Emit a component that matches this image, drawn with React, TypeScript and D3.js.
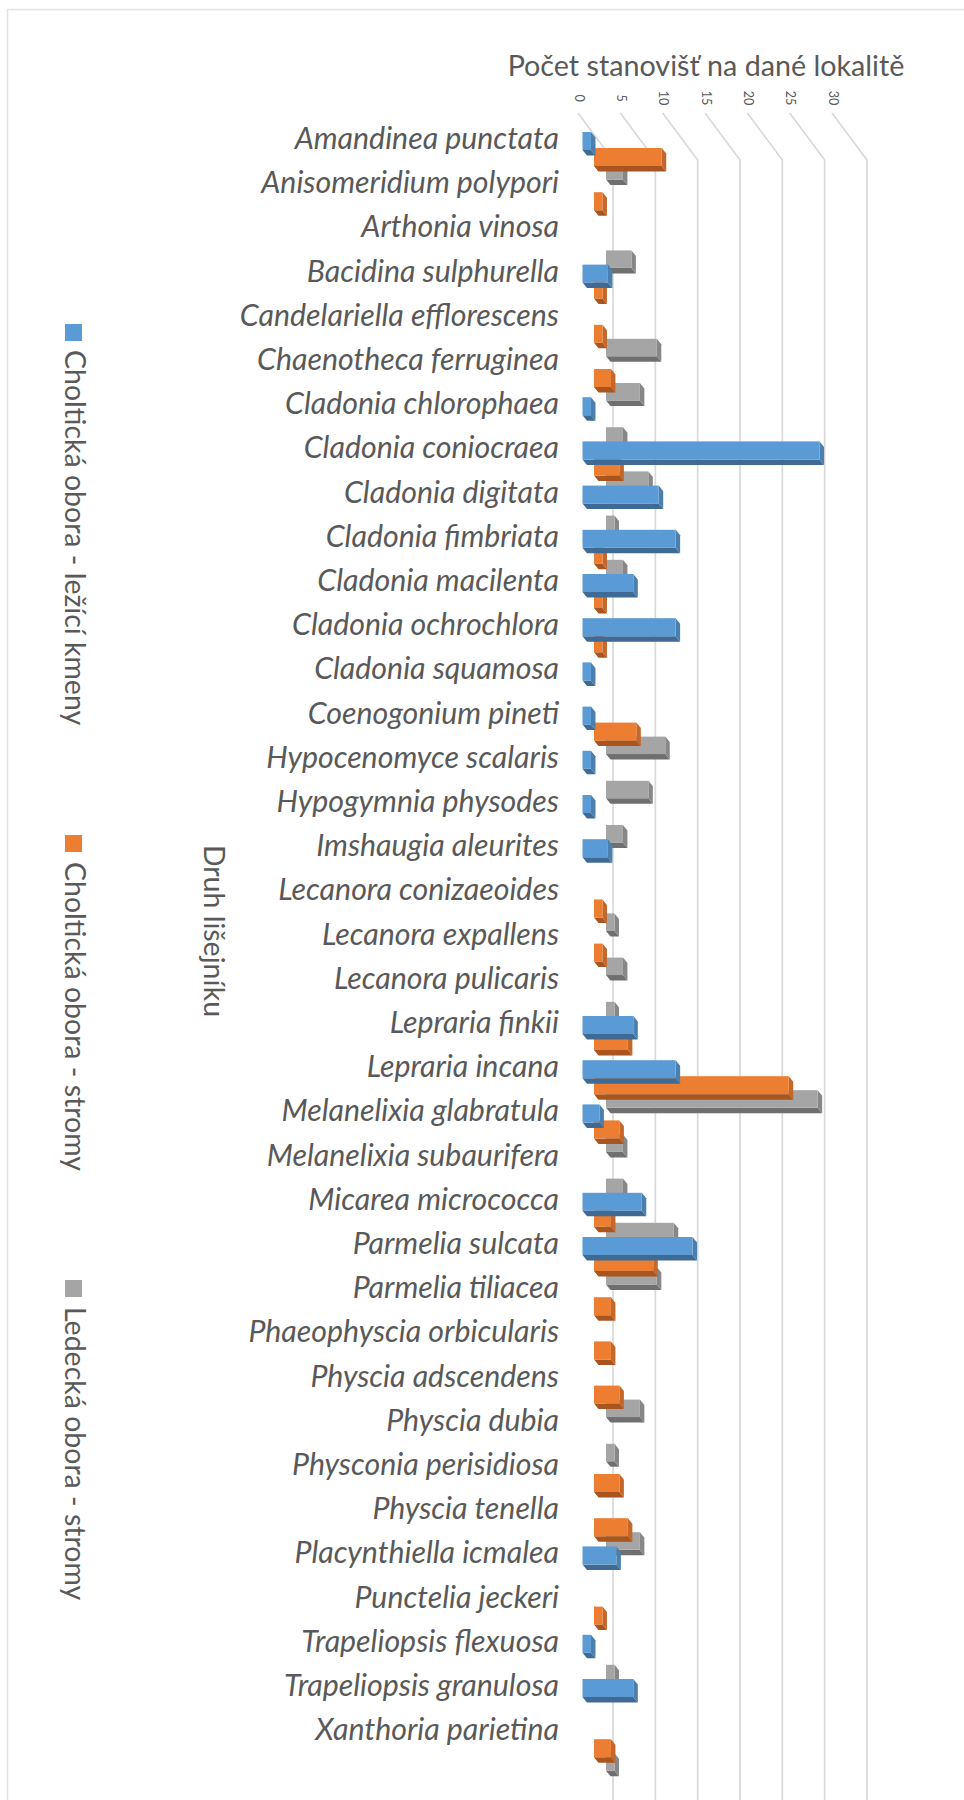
import React from "react";
import * as d3 from "d3";

const categories = ["Amandinea punctata","Anisomeridium polypori","Arthonia vinosa","Bacidina sulphurella","Candelariella efflorescens","Chaenotheca ferruginea","Cladonia chlorophaea","Cladonia coniocraea","Cladonia digitata","Cladonia fimbriata","Cladonia macilenta","Cladonia ochrochlora","Cladonia squamosa","Coenogonium pineti","Hypocenomyce scalaris","Hypogymnia physodes","Imshaugia aleurites","Lecanora conizaeoides","Lecanora expallens","Lecanora pulicaris","Lepraria finkii","Lepraria incana","Melanelixia glabratula","Melanelixia subaurifera","Micarea micrococca","Parmelia sulcata","Parmelia tiliacea","Phaeophyscia orbicularis","Physcia adscendens","Physcia dubia","Physconia perisidiosa","Physcia tenella","Placynthiella icmalea","Punctelia jeckeri","Trapeliopsis flexuosa","Trapeliopsis granulosa","Xanthoria parietina"];
const ticks = [0,5,10,15,20,25,30];
const blue = [1,0,0,3,0,0,1,28,9,11,6,11,1,1,1,1,3,0,0,0,6,11,2,0,7,13,0,0,0,0,0,0,4,0,1,6,0];
const orange = [8,1,0,1,1,2,0,3,0,1,1,1,0,5,0,0,0,1,1,0,4,23,3,0,2,7,2,2,3,0,3,4,0,1,0,0,2];
const grey = [2,0,3,0,6,4,2,5,1,2,0,0,0,7,5,2,0,1,2,1,0,25,2,2,8,6,0,0,4,1,0,4,0,0,1,0,1];
const legendNames = ["Choltická obora - ležící kmeny","Choltická obora - stromy","Ledecká obora - stromy"];
const titleText = "Počet stanovišť na dané lokalitě";
const yTitle = "Druh lišejníku";

const FONT = "Lato, 'Open Sans', sans-serif";
const TEXT = "#595959";
const GRID = "#d9d9d9";
const sc = d3.scaleLinear().domain([0, 30]).range([0, 254]);

const seriesDefs = [
  { values: grey, x0: 606, y0: 162, h: 17.5, dx: 4.5, dy: 5.5, face: "#a5a5a5", dark: "#6f6f6f", side: "#878787" },
  { values: orange, x0: 594, y0: 148, h: 18, dx: 4.5, dy: 5.5, face: "#ed7d31", dark: "#a8551f", side: "#c4672a" },
  { values: blue, x0: 582.5, y0: 132, h: 18, dx: 4.5, dy: 5.5, face: "#5b9bd5", dark: "#3e6a94", side: "#4a7fae" },
];
const rowY = d3.scaleLinear().domain([0, 36]).range([0, 36 * 44.2]);

function App() {
  return (
    <svg width={964} height={1800} style={{ position: "absolute", left: 0, top: 0, background: "#fff" }} fontFamily={FONT}>
      <path d="M7,9.5H964M7.5,9V1800" fill="none" stroke="#e2e2e2" strokeWidth={1.5} />
      <text x={706} y={76} textAnchor="middle" fontSize={28.7} fill={TEXT}>{titleText}</text>
      {ticks.map(t => (
        <text key={t} transform={`translate(${578 + sc(t)},98) rotate(90)`} textAnchor="middle" dominantBaseline="middle" fontSize={12.5} fill={TEXT}>{t}</text>
      ))}
      {ticks.map(t => (
        <path key={t} d={`M${578 + sc(t)},113L${613 + sc(t)},160V1800`} fill="none" stroke={GRID} strokeWidth={1.7} />
      ))}
      {categories.map((c, i) => (
        <text key={c} x={559} y={rowY(i) + 137} textAnchor="end" dominantBaseline="central" fontSize={30.3} fontStyle="italic" fill={TEXT}>{c}</text>
      ))}
      {seriesDefs.map((s, si) => (
        <g key={si}>
          {s.values.map((v, i) => {
            if (!v) return null;
            const x0 = s.x0, x1 = s.x0 + sc(v), y = s.y0 + rowY(i), b = y + s.h;
            return (
              <g key={i}>
                <path d={`M${x0},${b}L${x1},${b}L${x1 + s.dx},${b + s.dy}L${x0 + s.dx},${b + s.dy}Z`} fill={s.dark} />
                <path d={`M${x1},${y}L${x1 + s.dx},${y + s.dy}V${b + s.dy}L${x1},${b}Z`} fill={s.side} />
                <rect x={x0} y={y} width={x1 - x0} height={s.h} fill={s.face} />
              </g>
            );
          })}
        </g>
      ))}
      <text transform="translate(211,931) rotate(90)" textAnchor="middle" dominantBaseline="middle" fontSize={28.5} fill={TEXT}>{yTitle}</text>
      {[{ y: 324, ty: 350, c: "#5b9bd5" }, { y: 835, ty: 862, c: "#ed7d31" }, { y: 1280, ty: 1307, c: "#a5a5a5" }].map((l, i) => (
        <g key={i}>
          <rect x={65} y={l.y} width={17} height={17} fill={l.c} />
          <text transform={`translate(72,${l.ty}) rotate(90)`} dominantBaseline="middle" fontSize={28.5} fill={TEXT}>{legendNames[i]}</text>
        </g>
      ))}
    </svg>
  );
}

export default App;
